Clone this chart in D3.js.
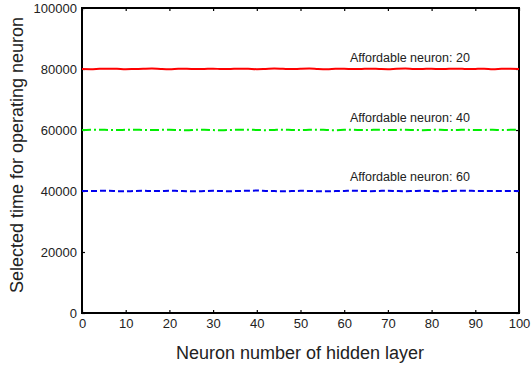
<!DOCTYPE html>
<html>
<head>
<meta charset="utf-8">
<script src="https://cdn.jsdelivr.net/npm/d3@7"></script>
<style>
  body { margin: 0; background: #fff; }
  text { font-family: "Liberation Sans", Arial, sans-serif; fill: #222; }
</style>
</head>
<body>
<div id="container"></div>
<script>
/* DATA */
const neurons = d3.range(0, 101, 2); // 0..100 step 2
const time20 = [80000, 79950, 80050, 80120, 80060, 79920, 80000, 80080, 80140, 80020,
  79950, 80060, 80100, 79980, 80040, 80120, 79960, 80010, 80100, 80060,
  79940, 80020, 80130, 80050, 79970, 80080, 80140, 80000, 79930, 80060,
  80110, 79960, 80040, 80120, 80020, 79950, 80080, 80140, 79980, 80030,
  80100, 79960, 80050, 80120, 79990, 80040, 80080, 79950, 80060, 80120, 80000];
const time40 = [60000, 60050, 60100, 60020, 59980, 60060, 60110, 60000, 59960, 60040,
  60080, 60010, 59940, 60050, 60100, 59970, 59900, 60020, 60060, 60100,
  60000, 59950, 60040, 60080, 60020, 59960, 60050, 60110, 60000, 59940,
  60060, 60090, 59990, 60030, 60080, 59970, 60020, 60070, 60000, 59950,
  60040, 60090, 59980, 60030, 60060, 59960, 60020, 60080, 60000, 60050, 60060];
const time60 = [40000, 39980, 40060, 40100, 39950, 39880, 40020, 40060, 39960, 40000,
  40080, 40020, 39940, 39900, 39980, 40060, 39990, 39920, 40020, 40080,
  40140, 40040, 39960, 39900, 39980, 40050, 40020, 39940, 39880, 39960,
  40040, 40100, 40000, 39950, 40030, 40080, 39980, 39930, 40020, 40060,
  39980, 39920, 40000, 40060, 40100, 40000, 39960, 40040, 39980, 40020, 40000];

const seriesNames = ["Affordable neuron: 20", "Affordable neuron: 40", "Affordable neuron: 60"];
const seriesValues = [time20, time40, time60];
const seriesColors = ["#ff0000", "#00ee00", "#0000ee"];
const seriesDash = [null, "9,3,2,3", "6,3"];
const labelAt = [61.3, 61.3, 61.3]; // x value where each label starts
const labelOffset = [82400, 62700, 43300]; // y value of each label baseline

const xTicks = d3.range(0, 101, 10);
const yTicks = d3.range(0, 100001, 20000);

/* CONSTANTS */
const width = 531;
const height = 372;
const margin = { top: 8, right: 12, bottom: 59, left: 82 };

const svg = d3.select("#container")
  .append("svg")
  .attr("width", width)
  .attr("height", height);

/* SCALES */
const xScale = d3.scaleLinear()
  .domain([0, 100])
  .range([margin.left, width - margin.right]);

const yScale = d3.scaleLinear()
  .domain([0, 100000])
  .range([height - margin.bottom, margin.top]);

/* AXES - ticks point inward on all four sides */
const tickLen = 3;
const fmt = d3.format("d");

svg.append("g")
  .attr("transform", `translate(0,${height - margin.bottom})`)
  .call(d3.axisBottom(xScale).tickValues(xTicks).tickFormat(fmt).tickSizeInner(-tickLen).tickSizeOuter(0).tickPadding(6))
  .call(g => g.select(".domain").remove())
  .selectAll("text").attr("font-size", 13).attr("dy", "0.71em");

svg.append("g")
  .attr("transform", `translate(0,${margin.top})`)
  .call(d3.axisTop(xScale).tickValues(xTicks).tickSizeInner(-tickLen).tickSizeOuter(0).tickFormat(""))
  .call(g => g.select(".domain").remove());

svg.append("g")
  .attr("transform", `translate(${margin.left},0)`)
  .call(d3.axisLeft(yScale).tickValues(yTicks).tickFormat(fmt).tickSizeInner(-tickLen).tickSizeOuter(0).tickPadding(5))
  .call(g => g.select(".domain").remove())
  .selectAll("text").attr("font-size", 13);

svg.append("g")
  .attr("transform", `translate(${width - margin.right},0)`)
  .call(d3.axisRight(yScale).tickValues(yTicks).tickSizeInner(-tickLen).tickSizeOuter(0).tickFormat(""))
  .call(g => g.select(".domain").remove());

svg.selectAll(".tick line").attr("stroke", "#000").attr("stroke-width", 1.2);
svg.selectAll(".tick text").style("fill", "#222");

// frame box
svg.append("rect")
  .attr("x", xScale(0))
  .attr("y", yScale(100000))
  .attr("width", xScale(100) - xScale(0))
  .attr("height", yScale(0) - yScale(100000))
  .attr("fill", "none")
  .attr("stroke", "#000")
  .attr("stroke-width", 2);

/* LINES */
const line = d3.line()
  .x((d, i) => xScale(neurons[i]))
  .y(d => yScale(d))
  .curve(d3.curveMonotoneX);

seriesValues.forEach((vals, k) => {
  svg.append("path")
    .datum(vals)
    .attr("d", line)
    .attr("fill", "none")
    .attr("stroke", seriesColors[k])
    .attr("stroke-width", 2)
    .attr("stroke-dasharray", seriesDash[k]);

  svg.append("text")
    .attr("x", xScale(labelAt[k]))
    .attr("y", yScale(labelOffset[k]))
    .attr("font-size", 12.5)
    .text(seriesNames[k]);
});

/* AXIS LABELS */
svg.append("text")
  .attr("x", 300)
  .attr("y", 359)
  .attr("text-anchor", "middle")
  .attr("font-size", 18)
  .text("Neuron number of hidden layer");

svg.append("text")
  .attr("transform", `translate(23,155) rotate(-90)`)
  .attr("text-anchor", "middle")
  .attr("font-size", 18)
  .text("Selected time for operating neuron");
</script>
</body>
</html>
